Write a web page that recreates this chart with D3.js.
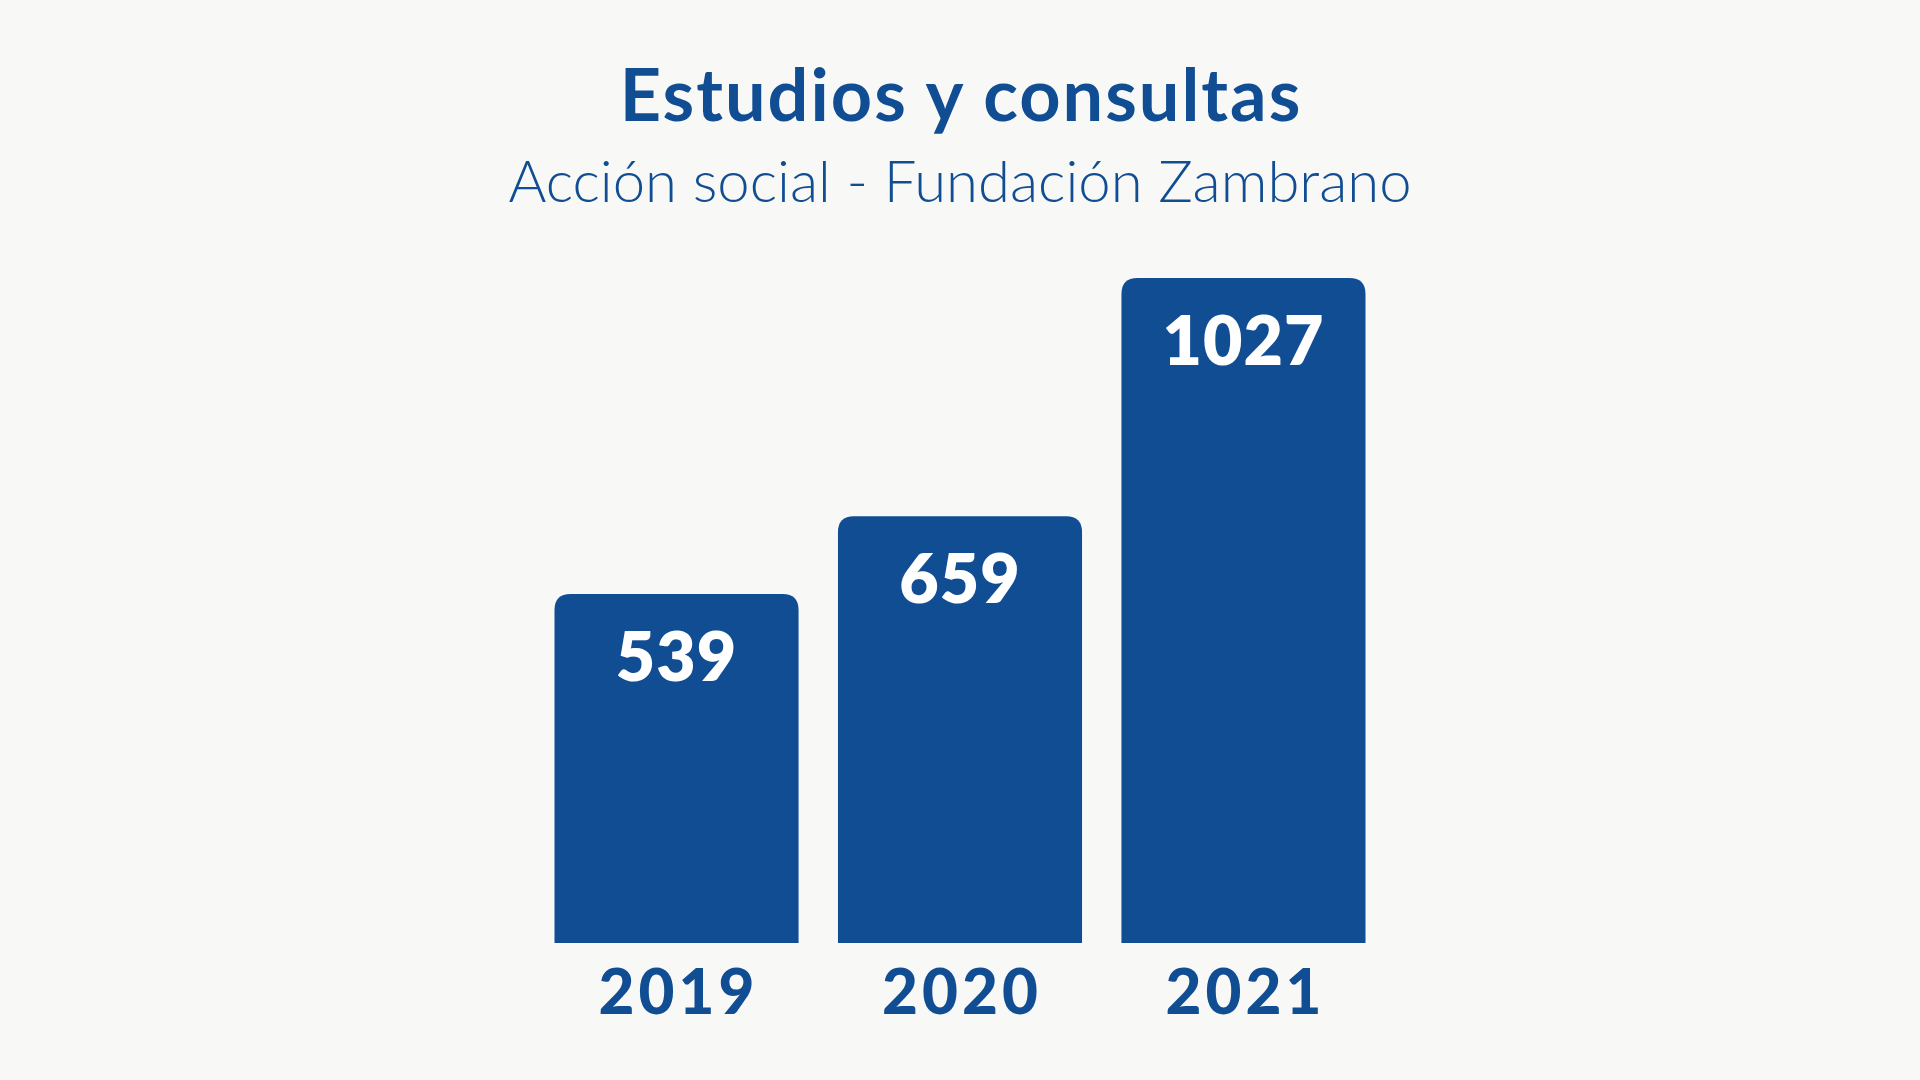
<!DOCTYPE html>
<html><head><meta charset="utf-8">
<script src="https://cdn.jsdelivr.net/npm/d3@7"></script>
<style>
html,body{margin:0;padding:0;background:#f8f8f6;}
svg{display:block;}
</style></head>
<body>
<svg id="chart" width="1920" height="1080"></svg>
<script>
const years = ["2019", "2020", "2021"];
const values = [539, 659, 1027];
const title = "Estudios y consultas";
const subtitle = "Acción social - Fundación Zambrano";

const W = 1920, H = 1080;
const blue = "#114d93";
const svg = d3.select("#chart");
svg.append("rect").attr("width", W).attr("height", H).attr("fill", "#f8f8f6");

const x = d3.scaleBand().domain(years).range([554.5, 1365.5]).paddingInner(0.139).paddingOuter(0);
const y = d3.scaleLinear().domain([0, d3.max(values)]).range([943, 278]);

const r = 16;
function barPath(x0, y0, w, y1) {
  return `M${x0},${y1} L${x0},${y0 + r} Q${x0},${y0} ${x0 + r},${y0} L${x0 + w - r},${y0} Q${x0 + w},${y0} ${x0 + w},${y0 + r} L${x0 + w},${y1} Z`;
}

const data = years.map((yr, i) => ({ yr, v: values[i] }));

svg.selectAll("path.bar").data(data).join("path")
  .attr("class", "bar")
  .attr("fill", blue)
  .attr("d", d => barPath(x(d.yr), y(d.v), x.bandwidth(), y(0)));

svg.selectAll("text.val").data(data).join("text")
  .attr("class", "val")
  .attr("x", d => x(d.yr) + x.bandwidth() / 2)
  .attr("y", d => y(d.v) + 87)
  .attr("text-anchor", "middle")
  .attr("fill", "#ffffff")
  .style("font-family", "Lato, 'Open Sans', sans-serif")
  .style("font-weight", 800)
  .style("font-size", "68px")
  .style("letter-spacing", "1px")
  .text(d => d.v);

svg.selectAll("text.yr").data(data).join("text")
  .attr("class", "yr")
  .attr("x", d => x(d.yr) + x.bandwidth() / 2 + 2)
  .attr("y", 1014)
  .attr("text-anchor", "middle")
  .attr("fill", blue)
  .style("font-family", "Lato, 'Open Sans', sans-serif")
  .style("font-weight", 900)
  .style("font-size", "62px")
  .style("letter-spacing", "4px")
  .text(d => d.yr);

svg.append("text")
  .attr("x", 961).attr("y", 121)
  .attr("text-anchor", "middle")
  .attr("fill", blue)
  .style("font-family", "Lato, 'Open Sans', sans-serif")
  .style("font-weight", 700)
  .style("font-size", "72px")
  .style("letter-spacing", "2px")
  .text(title);

svg.append("text")
  .attr("x", 960).attr("y", 202)
  .attr("text-anchor", "middle")
  .attr("fill", blue)
  .style("font-family", "Lato, 'Open Sans', sans-serif")
  .style("font-weight", 300)
  .style("font-size", "58px")
  .text(subtitle);
</script>
</body></html>
